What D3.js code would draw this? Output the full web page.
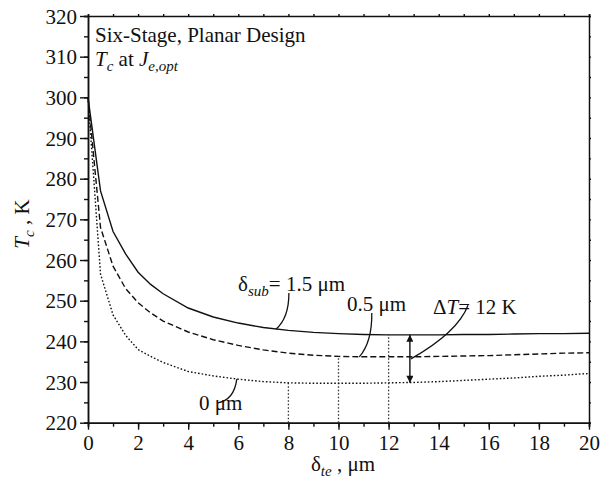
<!DOCTYPE html>
<html>
<head>
<meta charset="utf-8">
<script src="https://cdn.jsdelivr.net/npm/d3@7"></script>
<style>
  body { margin: 0; background: #fff; }
  svg text { font-family: "Liberation Serif", "Times New Roman", Times, "DejaVu Serif", serif !important; fill: #111; }
</style>
</head>
<body>
<svg width="600" height="486"></svg>
<script>
// data: cold-side temperature vs thermoelement thickness
var teThickness = [0, 0.5, 1, 1.5, 2, 2.5, 3, 4, 5, 6, 7, 8, 9, 10, 11, 12, 13, 14, 15, 16, 17, 18, 19, 20];
var tcSub15 = [300, 277, 267, 261.5, 257, 254, 251.7, 248.2, 246, 244.5, 243.4, 242.7, 242.2, 241.9, 241.7, 241.6, 241.6, 241.6, 241.7, 241.7, 241.8, 241.9, 241.9, 242.0];
var tcSub05 = [300, 268, 258.5, 253, 249.5, 247, 245, 242.3, 240.4, 239, 237.9, 237.1, 236.6, 236.3, 236.2, 236.2, 236.2, 236.3, 236.4, 236.5, 236.7, 236.9, 237.1, 237.2];
var tcSub0 = [300, 256.5, 246.5, 241.5, 238, 236.3, 234.8, 232.6, 231.5, 230.7, 230.1, 229.8, 229.7, 229.7, 229.7, 229.8, 229.9, 230.1, 230.4, 230.7, 231.0, 231.4, 231.7, 232.1];

var xTicks = [0, 2, 4, 6, 8, 10, 12, 14, 16, 18, 20];
var yTicks = [220, 230, 240, 250, 260, 270, 280, 290, 300, 310, 320];

// optimum points (x of minimum, value at minimum) for the drop lines
var optX = [8, 10, 12];
var optT = [229.8, 236.3, 241.6];

var svg = d3.select("svg"),
    margin = {top: 16, right: 11, bottom: 63.3, left: 88},
    width = +svg.attr("width") - margin.left - margin.right,
    height = +svg.attr("height") - margin.top - margin.bottom;

var x = d3.scaleLinear().domain([0, 20]).range([0, width]),
    y = d3.scaleLinear().domain([220, 320]).range([height, 0]);

var g = svg.append("g")
    .attr("transform", "translate(" + margin.left + "," + margin.top + ")");

// arrow heads for the delta T marker
var defs = svg.append("defs");
defs.append("marker")
    .attr("id", "head")
    .attr("viewBox", "0 0 10 10")
    .attr("refX", 10).attr("refY", 5)
    .attr("markerWidth", 11).attr("markerHeight", 7)
    .attr("markerUnits", "userSpaceOnUse")
    .attr("orient", "auto-start-reverse")
    .append("path")
    .attr("d", "M0,0 L10,5 L0,10 Z")
    .attr("fill", "#111");

// minor ticks
var minorX = d3.range(0, 21, 1), minorY = d3.range(220, 321, 5);

g.append("g")
    .attr("transform", "translate(0," + height + ")")
    .call(d3.axisBottom(x).tickValues(minorX).tickSize(4).tickFormat(""));
g.append("g")
    .call(d3.axisLeft(y).tickValues(minorY).tickSize(4).tickFormat(""));
g.append("g")
    .call(d3.axisTop(x).tickValues(minorX).tickSize(2).tickFormat(""));
g.append("g")
    .attr("transform", "translate(" + width + ",0)")
    .call(d3.axisRight(y).tickValues(minorY).tickSize(2).tickFormat(""));

// major ticks with labels
var xAxis = g.append("g")
    .attr("transform", "translate(0," + height + ")")
    .call(d3.axisBottom(x).tickValues(xTicks).tickSize(7).tickPadding(5).tickSizeOuter(0));
var yAxis = g.append("g")
    .call(d3.axisLeft(y).tickValues(yTicks).tickSize(8).tickPadding(3).tickSizeOuter(0));

g.selectAll(".domain").attr("stroke", "#111").attr("stroke-width", 1.5);
g.selectAll(".tick line").attr("stroke", "#111").attr("stroke-width", 1.4);
g.selectAll(".tick text")
    .attr("font-size", 21)
    .attr("fill", "#111");
xAxis.attr("font-family", null).attr("font-size", null);
yAxis.attr("font-family", null).attr("font-size", null);
yAxis.selectAll(".tick text").attr("dy", "0.34em");

// drop lines to the optima
g.selectAll(".drop")
    .data(optX)
    .enter().append("line")
    .attr("class", "drop")
    .attr("x1", function (d) { return x(d); })
    .attr("x2", function (d) { return x(d); })
    .attr("y1", y(220))
    .attr("y2", function (d, i) { return y(optT[i]); })
    .attr("stroke", "#333")
    .attr("stroke-width", 1.3)
    .attr("stroke-dasharray", "1.5,2");

// the three curves
var line = d3.line()
    .x(function (d) { return x(d[0]); })
    .y(function (d) { return y(d[1]); });

var series = [
    {values: tcSub15, dash: null},
    {values: tcSub05, dash: "6,3"},
    {values: tcSub0, dash: "1.6,2"}
];

g.selectAll(".curve")
    .data(series)
    .enter().append("path")
    .attr("class", "curve")
    .attr("fill", "none")
    .attr("stroke", "#111")
    .attr("stroke-width", 1.4)
    .attr("stroke-dasharray", function (d) { return d.dash; })
    .attr("d", function (d) {
        return line(d.values.map(function (v, i) { return [teThickness[i], v]; }));
    });

// delta T double arrow
g.append("line")
    .attr("x1", x(12.85)).attr("x2", x(12.85))
    .attr("y1", y(241.6)).attr("y2", y(229.8))
    .attr("stroke", "#111")
    .attr("stroke-width", 1.4)
    .attr("marker-start", "url(#head)")
    .attr("marker-end", "url(#head)");

// leader lines: start, control, end (data units)
var leaders = [
    [[8.02, 251.9], [8.02, 245.7], [7.5, 243.0]],
    [[11.33, 247.0], [11.34, 239.8], [10.83, 236.2]],
    [[15.17, 248.9], [14.77, 242.3], [12.89, 235.7]],
    [[5.19, 224.9], [5.83, 225.6], [5.94, 230.7]]
];
g.selectAll(".leader")
    .data(leaders)
    .enter().append("path")
    .attr("class", "leader")
    .attr("fill", "none")
    .attr("stroke", "#111")
    .attr("stroke-width", 1.3)
    .attr("d", function (d) {
        return "M" + x(d[0][0]) + "," + y(d[0][1]) +
            " Q" + x(d[1][0]) + "," + y(d[1][1]) +
            " " + x(d[2][0]) + "," + y(d[2][1]);
    });

// helper for text with sub/italic parts
function label(sel, px, py, parts, anchor) {
    var t = sel.append("text")
        .attr("x", px).attr("y", py)
        .attr("font-size", 21)
        .attr("text-anchor", anchor || "start");
    parts.forEach(function (p) {
        var s = t.append("tspan").text(p.t);
        if (p.i) s.attr("font-style", "italic");
        if (p.sub) s.attr("font-size", 15).attr("dy", 5);
        if (p.up) s.attr("dy", -5);
    });
    return t;
}

label(g, x(0.28), y(313.6), [{t: "Six-Stage, Planar Design"}]);
label(g, x(0.28), y(307.7), [
    {t: "T", i: true}, {t: "c", i: true, sub: true},
    {t: " at ", up: true}, {t: "J", i: true},
    {t: "e,opt", i: true, sub: true}
]);

label(g, x(5.99), y(252.4), [
    {t: "δ"}, {t: "sub", i: true, sub: true}, {t: "= 1.5 μm", up: true}
]);
label(g, x(10.34), y(247.5), [{t: "0.5 μm"}]);
label(g, x(13.77), y(246.7), [
    {t: "Δ"}, {t: "T", i: true}, {t: "= 12 K"}
]);
label(g, x(4.43), y(223.1), [{t: "0 μm"}]);

// axis titles
label(svg, 343, 471, [
    {t: "δ"}, {t: "te", i: true, sub: true}, {t: " , μm", up: true}
], "middle");

label(svg, 0, 0, [
    {t: "T", i: true}, {t: "c", i: true, sub: true}, {t: " , K", up: true}
], "middle").attr("transform", "translate(29,224) rotate(-90)");
</script>
</body>
</html>
